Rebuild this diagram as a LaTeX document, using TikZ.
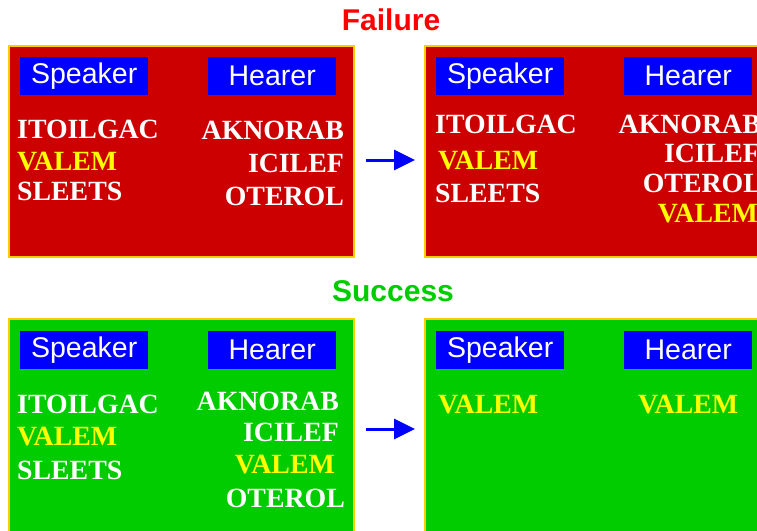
\documentclass[tikz,border=0pt]{standalone}
\usepackage{fontspec}
\setmainfont{Liberation Serif}
\newfontfamily\labfont{Liberation Sans}
\usetikzlibrary{arrows.meta}
\definecolor{panelred}{HTML}{CC0000}
\definecolor{panelgreen}{HTML}{00CC00}
\definecolor{panelgold}{HTML}{FFCC00}
\definecolor{titlered}{HTML}{FF0000}
\definecolor{titlegreen}{HTML}{00CC00}
\definecolor{wordyellow}{HTML}{FFFF00}
\tikzset{
  panel/.style={draw=panelgold, line width=2pt},
  rolebox/.style={fill=blue, text=white, font=\labfont\fontsize{28.5}{28.5}\selectfont,
    minimum width=128pt, minimum height=38pt, inner sep=0pt, anchor=north west},
  word/.style={font=\bfseries\fontsize{27.8}{27.8}\selectfont, inner sep=0pt, text=white},
  yword/.style={word, text=wordyellow},
  ttl/.style={font=\labfont\bfseries\fontsize{30}{30}\selectfont, inner sep=0pt, anchor=base},
  flow/.style={draw=blue, line width=3pt, -{Triangle[length=21pt,width=20pt]}}
}
\begin{document}
\begin{tikzpicture}[x=1pt,y=-1pt]
\useasboundingbox (0,0) rectangle (757,530);
\clip (0,0) rectangle (757,530);
% titles
\node[ttl, text=titlered] (tfail) at (391,30) {Failure};
\node[ttl, text=titlegreen] (tsucc) at (393,301) {Success};
% panels
\path[panel, fill=panelred] (9,46) rectangle (354,257);
\path[panel, fill=panelred] (425,46) rectangle (800,257);
\path[panel, fill=panelgreen] (9,319) rectangle (354,560);
\path[panel, fill=panelgreen] (425,319) rectangle (800,560);
% role boxes
\node[rolebox] (s1) at (20,57) {Speaker};
\node[rolebox] (h1) at (208,57) {Hearer};
\node[rolebox] (s2) at (436,57) {Speaker};
\node[rolebox] (h2) at (624,57) {Hearer};
\node[rolebox] (s3) at (20,331) {Speaker};
\node[rolebox] (h3) at (208,331) {Hearer};
\node[rolebox] (s4) at (436,331) {Speaker};
\node[rolebox] (h4) at (624,331) {Hearer};
% panel 1 words
\node[word, anchor=base west] (a1) at (17,138) {ITOILGAC};
\node[yword, anchor=base west] (a2) at (17,170) {VALEM};
\node[word, anchor=base west] (a3) at (17,200) {SLEETS};
\node[word, anchor=base east] (b1) at (344,139) {AKNORAB};
\node[word, anchor=base east] (b2) at (344,172) {ICILEF};
\node[word, anchor=base east] (b3) at (344,205) {OTEROL};
% panel 2 words
\node[word, anchor=base west] (c1) at (435,133) {ITOILGAC};
\node[yword, anchor=base west] (c2) at (438,169) {VALEM};
\node[word, anchor=base west] (c3) at (435,202) {SLEETS};
\node[word, anchor=base east] (d1) at (761,133) {AKNORAB};
\node[word, anchor=base east] (d2) at (760,162) {ICILEF};
\node[word, anchor=base east] (d3) at (762,192) {OTEROL};
\node[yword, anchor=base east] (d4) at (758,222) {VALEM};
% panel 3 words
\node[word, anchor=base west] (e1) at (17,413) {ITOILGAC};
\node[yword, anchor=base west] (e2) at (17,445) {VALEM};
\node[word, anchor=base west] (e3) at (17,479) {SLEETS};
\node[word, anchor=base east] (f1) at (339,410) {AKNORAB};
\node[word, anchor=base east] (f2) at (339,441) {ICILEF};
\node[yword, anchor=base east] (f3) at (335,473) {VALEM};
\node[word, anchor=base east] (f4) at (345,507) {OTEROL};
% panel 4 words
\node[yword, anchor=base west] (g1) at (438,413) {VALEM};
\node[yword, anchor=base west] (g2) at (638,413) {VALEM};
% arrows
\coordinate (p1) at (366,160);
\coordinate (q1) at (415,160);
\coordinate (p2) at (366,429);
\coordinate (q2) at (415,429);
\draw[flow] (p1) -- (q1);
\draw[flow] (p2) -- (q2);
\end{tikzpicture}
\end{document}
